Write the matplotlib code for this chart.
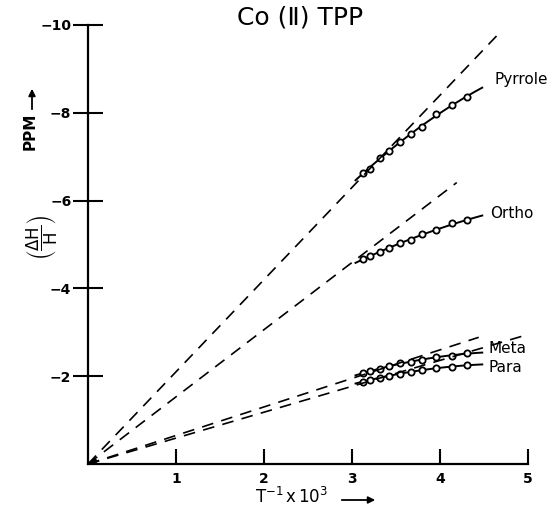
import numpy as np
import matplotlib
matplotlib.use("Agg")
from matplotlib import pyplot as plt

# Co(II) TPP isotropic shifts vs 1/T
names = ["Pyrrole", "Ortho", "Meta", "Para"]
inv_t = [3.12, 3.21, 3.32, 3.42, 3.54, 3.67, 3.80, 3.96, 4.14, 4.31]
pyrrole = [-6.64, -6.72, -6.97, -7.14, -7.33, -7.52, -7.67, -7.98, -8.18, -8.37]
ortho = [-4.67, -4.73, -4.83, -4.92, -5.04, -5.10, -5.24, -5.33, -5.48, -5.55]
meta = [-2.07, -2.11, -2.17, -2.23, -2.29, -2.33, -2.38, -2.43, -2.47, -2.52]
para = [-1.87, -1.92, -1.97, -2.01, -2.05, -2.10, -2.14, -2.18, -2.22, -2.25]

# dashed extrapolations through the origin
dash_slope = [-2.10, -1.53, -0.65, -0.59]
dash_end = [4.68, 4.19, 4.44, 5.15]

# where the series names sit
label_x = [4.62, 4.57, 4.55, 4.55]
label_y = [-8.75, -5.70, -2.62, -2.20]

yticks = [-2, -4, -6, -8, -10]
xticks = [1, 2, 3, 4, 5]

fig = plt.figure(figsize=(5.54, 5.12), dpi=100)
ax = fig.add_axes([88/554, 48/512, 440/554, 439/512])

series = [pyrrole, ortho, meta, para]
for i, ys in enumerate(series):
    # fitted smooth curve through the points
    c = np.polyfit(inv_t, ys, 2)
    xs = np.linspace(3.04, 4.48, 50)
    ax.plot(xs, np.polyval(c, xs), color="black", lw=1.4)
    ax.plot(inv_t, ys, "o", ms=4.5, mfc="white", mec="black", mew=1.3)
    ax.plot([0, dash_end[i]], [0, dash_slope[i]*dash_end[i]], color="black",
            lw=1.2, dashes=(7, 5))
    ax.text(label_x[i], label_y[i], names[i], fontsize=11, va="center", ha="left")

# little arrow at the origin
ax.annotate("", xy=(0.0, 0.0), xytext=(0.12, -0.12),
            arrowprops=dict(arrowstyle="-|>", color="black", lw=1, mutation_scale=8))

ax.set_xlim(0, 5)
ax.set_ylim(0, -10)
ax.spines["top"].set_visible(False)
ax.spines["right"].set_visible(False)
ax.spines["left"].set_linewidth(1.6)
ax.spines["bottom"].set_linewidth(1.6)
ax.set_xticks(xticks)
ax.set_xticklabels([str(t) for t in xticks], fontsize=10, fontweight="bold")
ax.set_yticks(yticks)
ax.set_yticklabels(["\u2212" + str(-t) for t in yticks], fontsize=10, fontweight="bold")
ax.tick_params(axis="x", direction="in", length=11, width=1.5, pad=6)
ax.tick_params(axis="y", direction="inout", length=22, width=1.5, pad=1)

fig.text(300/554, 1 - 18/512, "Co (\u2161) TPP", fontsize=18, ha="center", va="center")

# y label, built from three pieces
fig.text(42/554, 1 - 237/512, r"$\left(\dfrac{\Delta \mathrm{H}}{\mathrm{H}}\right)$",
         rotation=90, fontsize=12, ha="center", va="center")
fig.text(30/554, 1 - 131/512, "PPM", rotation=90, fontsize=11, fontweight="bold",
         ha="center", va="center")
ax.annotate("", xy=(32/554, 1 - 86/512), xytext=(32/554, 1 - 112/512),
            xycoords="figure fraction", textcoords="figure fraction",
            arrowprops=dict(arrowstyle="-|>", color="black", lw=1.3, mutation_scale=10))

# x label with arrow
fig.text(292/554, 1 - 497/512, r"$\mathrm{T}^{-1}\,\mathrm{x}\,10^{3}$",
         fontsize=12, ha="center", va="center")
ax.annotate("", xy=(378/554, 1 - 500/512), xytext=(339/554, 1 - 500/512),
            xycoords="figure fraction", textcoords="figure fraction",
            arrowprops=dict(arrowstyle="-|>", color="black", lw=1.3, mutation_scale=10))

fig.savefig("out.png", dpi=100)
